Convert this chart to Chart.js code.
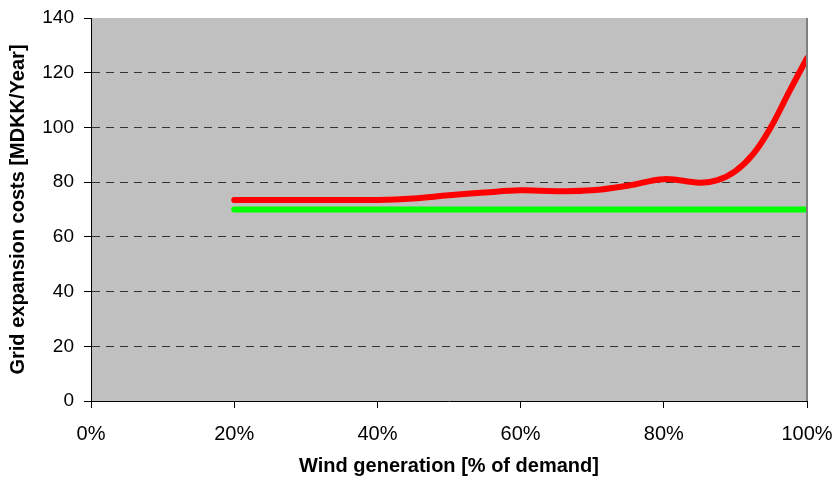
<!DOCTYPE html>
<html>
<head>
<meta charset="utf-8">
<script src="https://cdn.jsdelivr.net/npm/chart.js@4/dist/chart.umd.min.js"></script>
<style>
  html, body { margin: 0; padding: 0; background: #fff; }
  #wrap { width: 835px; height: 479px; }
</style>
</head>
<body>
<div id="wrap"><canvas id="theChart" width="835" height="479"></canvas></div>
<script>
// wind share (% of demand) and grid cost values
const windPct   = [20, 30, 40, 45, 50, 55, 60, 65, 70, 75, 80, 85, 87.5, 90, 92.5, 95, 97.5, 100]
const gridCosts = [73.5, 73.5, 73.5, 74, 75.2, 76.2, 77, 76.7, 77, 78.7, 81.1, 79.8, 80.7, 84, 90.3, 100.3, 113, 125.3]
const baseCost  = [70, 70, 70, 70, 70, 70, 70, 70, 70, 70, 70, 70, 70, 70, 70, 70, 70, 70]
const xTicks = [0, 20, 40, 60, 80, 100]
const yTicks = [0, 20, 40, 60, 80, 100, 120, 140]

const pts = (ys) => windPct.map((x, i) => ({ x: x, y: ys[i] }))

const plotBg = {
    id: "plotBg",
    beforeDraw(chart) {
        const { ctx, chartArea: a } = chart
        ctx.save()
        ctx.fillStyle = "#c0c0c0"
        ctx.fillRect(a.left, a.top, a.right - a.left, a.bottom - a.top)
        ctx.restore()
    },
    afterDraw(chart) {
        const { ctx, chartArea: a } = chart
        ctx.save()
        ctx.strokeStyle = "#808080"
        ctx.lineWidth = 2
        ctx.beginPath()
        ctx.moveTo(a.right, a.top)
        ctx.lineTo(a.right, a.bottom)
        ctx.stroke()
        ctx.restore()
    }
}

// no extra room for overflowing labels, layout padding decides
const noPad = (s) => { s.paddingLeft = 0; s.paddingRight = 0; s.paddingTop = 0; s.paddingBottom = 0 }

const font = "'Liberation Sans', Arial, sans-serif"

new Chart(document.getElementById("theChart"), {
    type: "line",
    data: {
        datasets: [
            {
                label: "base",
                data: pts(baseCost),
                borderColor: "#00ff00",
                borderWidth: 6,
                borderCapStyle: "round",
                pointRadius: 0,
                tension: 0
            },
            {
                label: "costs",
                data: pts(gridCosts),
                borderColor: "#ff0000",
                borderWidth: 6,
                borderCapStyle: "round",
                pointRadius: 0,
                tension: 0.4
            }
        ]
    },
    options: {
        responsive: false,
        animation: false,
        layout: { padding: { top: 18, right: 28, left: 0, bottom: 0 } },
        plugins: { legend: { display: false }, tooltip: { enabled: false } },
        scales: {
            x: {
                type: "linear",
                min: 0,
                max: 100,
                afterBuildTicks: (s) => { s.ticks = xTicks.map(v => ({ value: v })) },
                afterFit: (s) => { s.height = 78; noPad(s) },
                ticks: {
                    callback: (v) => v + "%",
                    color: "#000",
                    padding: 14,
                    maxRotation: 0,
                    font: { family: font, size: 20, lineHeight: 1.2 }
                },
                grid: { drawOnChartArea: false, tickLength: 7, color: "#000" },
                border: { color: "#000", width: 1 },
                title: {
                    display: true,
                    text: "Wind generation [% of demand]",
                    color: "#000",
                    padding: { top: 0, bottom: 1 },
                    font: { family: font, size: 20, weight: "bold", lineHeight: 1.2 }
                }
            },
            y: {
                min: 0,
                max: 140,
                afterBuildTicks: (s) => { s.ticks = yTicks.map(v => ({ value: v })) },
                afterFit: (s) => { s.width = 91; noPad(s) },
                ticks: {
                    color: "#000",
                    padding: 10,
                    font: { family: font, size: 19, lineHeight: 1.2 }
                },
                grid: {
                    tickLength: 7,
                    tickColor: "#000",
                    color: (c) => (c.tick && (c.tick.value === 0 || c.tick.value === 140)) ? "rgba(0,0,0,0)" : "#333"
                },
                border: { color: "#000", width: 1, dash: [8, 6] },
                title: {
                    display: true,
                    text: "Grid expansion costs [MDKK/Year]",
                    color: "#000",
                    padding: { top: 6, bottom: 0 },
                    font: { family: font, size: 20, weight: "bold", lineHeight: 1.2 }
                }
            }
        }
    },
    plugins: [plotBg]
})
</script>
</body>
</html>
